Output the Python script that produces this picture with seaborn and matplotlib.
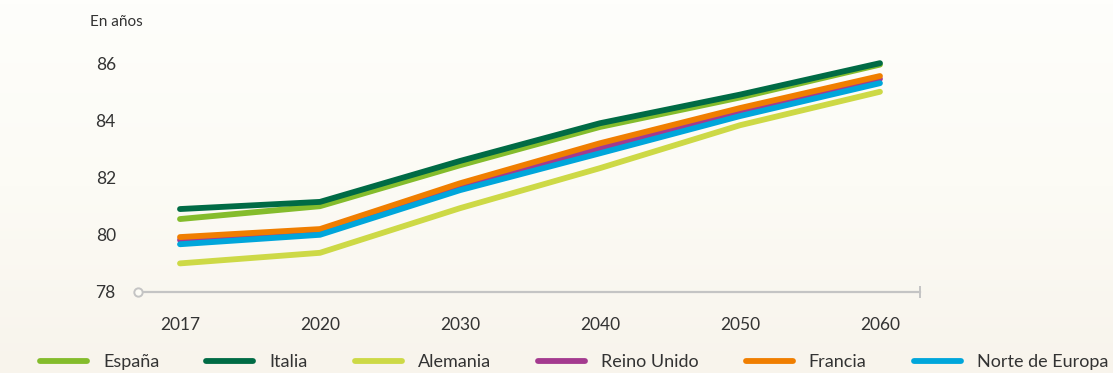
import numpy as np
import pandas as pd
import matplotlib
matplotlib.use("Agg")
import matplotlib.pyplot as plt
import seaborn as sns
from matplotlib.colors import LinearSegmentedColormap

years = ["2017", "2020", "2030", "2040", "2050", "2060"]
espana = [80.55, 81.0, 82.43, 83.77, 84.8, 85.95]
italia = [80.9, 81.15, 82.58, 83.9, 84.9, 86.0]
alemania = [79.0, 79.37, 80.93, 82.33, 83.83, 85.0]
reino_unido = [79.82, 80.1, 81.68, 83.03, 84.27, 85.45]
francia = [79.92, 80.2, 81.8, 83.2, 84.43, 85.55]
norte_europa = [79.67, 80.0, 81.56, 82.85, 84.15, 85.3]

series_names = ["España", "Italia", "Alemania", "Reino Unido", "Francia", "Norte de Europa"]
series_values = [espana, italia, alemania, reino_unido, francia, norte_europa]
colors = ["#84bc2c", "#006b45", "#cdd946", "#a43a8f", "#f07e00", "#00a6db"]
y_ticks = [78, 80, 82, 84, 86]

df = pd.DataFrame({
    "year": years * len(series_names),
    "value": [v for s in series_values for v in s],
    "serie": [n for n in series_names for _ in years],
})

sns.set_theme(style="white")
plt.rcParams["font.family"] = ["Lato", "DejaVu Sans"]
text_color = "#333333"
axis_color = "#c4c4c4"
bg = "#fcfbf5"

W, H = 1113, 373
fig = plt.figure(figsize=(W / 100, H / 100), dpi=100)
fig.patch.set_facecolor(bg)

# subtle background gradient
bgax = fig.add_axes([0, 0, 1, 1], zorder=-10)
grad = np.linspace(0, 1, 100).reshape(-1, 1)
cmap = LinearSegmentedColormap.from_list("bgc", ["#fefefb", "#fcfbf5", "#f8f4ec"])
bgax.imshow(grad, aspect="auto", cmap=cmap, extent=[0, 1, 0, 1], origin="upper")
bgax.axis("off")

ax = fig.add_axes([138 / W, 1 - 292 / H, (920 - 138) / W, (292 - 46) / H])
ax.set_facecolor("none")

sns.lineplot(data=df, x="year", y="value", hue="serie", hue_order=series_names,
             palette=colors, linewidth=4.2, sort=False, ax=ax, legend=False,
             solid_capstyle="round", solid_joinstyle="round")

ax.set_xlim(-0.3, 5.286)
ax.set_ylim(78, 86.6)
ax.set_yticks(y_ticks)
ax.set_yticklabels([str(t) for t in y_ticks])
ax.set_xlabel("")
ax.set_ylabel("")
for s in ["top", "right", "left"]:
    ax.spines[s].set_visible(False)
ax.spines["bottom"].set_color(axis_color)
ax.spines["bottom"].set_linewidth(1.6)
ax.tick_params(axis="y", length=0, pad=16, labelsize=12.5, labelcolor=text_color)
ax.tick_params(axis="x", length=0, pad=18, labelsize=12.5, labelcolor=text_color)
ax.grid(False)

# axis end decorations
ax.plot([-0.3], [78], marker="o", ms=6, mfc=bg, mec=axis_color, mew=1.4,
        clip_on=False, zorder=5)
ax.plot([5.286], [78], marker="|", ms=8, mec=axis_color, mew=1.4,
        clip_on=False, zorder=5)

fig.text(90 / W, 1 - 22 / H, "En años", ha="left", va="center",
         fontsize=11, color=text_color)

handles = ax.get_lines()[:len(series_names)]
leg = fig.legend(handles, series_names, loc="center",
                 bbox_to_anchor=(574 / W, 1 - 362 / H), ncol=6, frameon=False,
                 fontsize=13, handlelength=2.6, handletextpad=0.9,
                 columnspacing=2.6)
for t in leg.get_texts():
    t.set_color(text_color)

fig.savefig("out.png", dpi=100, facecolor=bg)
